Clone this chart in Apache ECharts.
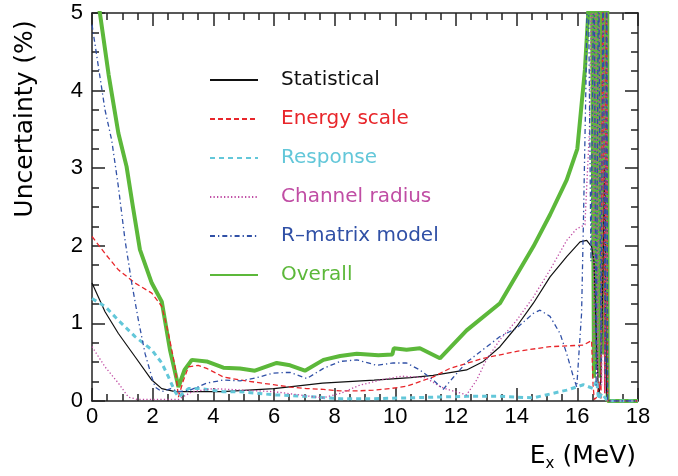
<!DOCTYPE html>
<html>
<head>
<meta charset="utf-8">
<script src="https://cdn.jsdelivr.net/npm/echarts/dist/echarts.min.js"></script>
<style>
html,body{margin:0;padding:0;background:#fff;}
#chart{width:678px;height:476px;}
</style>
</head>
<body>
<div id="chart"></div>
<script>
// ---- data (E_x in MeV, uncertainty in %) ----
const seriesNames = ['Statistical', 'Energy scale', 'Response', 'Channel radius', 'R\u2013matrix model', 'Overall'];
const xTicks = [0, 2, 4, 6, 8, 10, 12, 14, 16, 18];
const yTicks = [0, 1, 2, 3, 4, 5];

const statistical = [[0,1.52],[0.43,1.15],[0.87,0.87],[1.42,0.57],[1.97,0.27],[2.3,0.16],[2.74,0.12],[3.2,0.12],[4.3,0.12],[6.0,0.16],[7.6,0.23],[9.3,0.27],[10.5,0.30],[11.25,0.33],[12.35,0.40],[12.9,0.51],[13.45,0.70],[14.0,0.96],[14.55,1.26],[15.1,1.60],[15.65,1.86],[16.09,2.05],[16.31,2.07],[16.47,1.99],[16.55,1.8],[16.62,0.9],[16.7,0.05],[16.78,0.3],[16.85,1.8],[16.9,3.0],[16.95,0.2],[17.0,0],[18,0]];

const energyScale = [[0,2.12],[0.43,1.90],[0.87,1.69],[1.42,1.52],[1.97,1.39],[2.3,1.22],[2.52,0.87],[2.74,0.44],[2.85,0.05],[3.0,0.25],[3.18,0.44],[3.5,0.46],[3.78,0.42],[4.33,0.31],[4.88,0.27],[5.43,0.24],[5.98,0.21],[6.53,0.18],[7.08,0.16],[7.63,0.15],[8.18,0.13],[8.73,0.13],[9.28,0.14],[9.83,0.16],[10.37,0.19],[11.25,0.31],[11.8,0.42],[12.9,0.55],[14.0,0.64],[15.1,0.70],[16.2,0.72],[16.47,0.78],[16.52,0.2],[16.56,0.02],[16.65,0.05],[16.72,0.25],[16.78,0.02],[16.84,6],[16.9,0.1],[16.96,6],[17.0,0],[18,0]];

const response = [[0,1.32],[0.43,1.22],[0.87,1.04],[1.42,0.83],[1.97,0.66],[2.3,0.49],[2.52,0.31],[2.74,0.12],[2.85,0.05],[3.18,0.16],[3.6,0.16],[4.33,0.12],[4.88,0.12],[5.98,0.08],[7.08,0.06],[8.18,0.03],[9.28,0.03],[10.37,0.04],[12.35,0.06],[13.45,0.06],[14.55,0.04],[15.65,0.14],[16.2,0.21],[16.53,0.16],[16.64,0.27],[16.7,0.02],[16.8,0.1],[16.9,0.05],[17.0,0],[18,0]];

const channelRadius = [[0,0.70],[0.43,0.44],[0.87,0.23],[1.2,0.05],[1.5,0.02],[2.0,0.02],[2.5,0.02],[2.85,0.02],[3.3,0.12],[4.0,0.16],[5.0,0.14],[6.0,0.12],[7.0,0.07],[7.6,0.04],[8.2,0.1],[8.8,0.2],[9.5,0.27],[10.2,0.32],[11.0,0.3],[11.5,0.18],[11.8,0.14],[12.35,0.08],[12.68,0.27],[13.0,0.53],[13.45,0.79],[14.0,1.04],[14.55,1.34],[15.1,1.69],[15.65,2.07],[15.98,2.22],[16.25,2.27],[16.4,3.5],[16.48,6],[16.55,0.5],[16.6,6],[16.68,0.3],[16.72,6],[16.8,0.2],[16.85,6],[16.92,0.1],[16.97,6],[17.0,0],[18,0]];

const rMatrix = [[0,4.85],[0.21,4.31],[0.43,3.75],[0.65,3.36],[0.87,2.76],[1.09,2.07],[1.31,1.52],[1.53,1.04],[1.75,0.61],[1.97,0.31],[2.08,0.18],[2.3,0.12],[2.6,0.16],[2.85,0.12],[3.23,0.14],[3.78,0.23],[4.33,0.27],[4.88,0.26],[5.43,0.30],[5.98,0.36],[6.53,0.37],[7.08,0.29],[7.63,0.42],[8.18,0.51],[8.73,0.53],[9.39,0.46],[9.93,0.49],[10.37,0.49],[10.81,0.40],[11.25,0.27],[11.58,0.15],[11.9,0.3],[12.35,0.5],[13.45,0.83],[14.0,0.94],[14.55,1.13],[14.77,1.17],[15.1,1.09],[15.43,0.87],[15.65,0.61],[15.87,0.31],[15.98,0.18],[16.14,1.13],[16.2,2.29],[16.28,4.0],[16.35,6],[16.45,1.8],[16.55,6],[16.62,0.2],[16.7,6],[16.78,0.5],[16.85,6],[16.92,0.3],[16.97,6],[17.0,0],[18,0]];

const overall = [[0,5.6],[0.26,5.0],[0.55,4.2],[0.87,3.45],[1.14,3.02],[1.35,2.5],[1.58,1.95],[1.97,1.52],[2.3,1.28],[2.57,0.66],[2.85,0.18],[3.05,0.4],[3.29,0.53],[3.78,0.51],[4.33,0.43],[4.88,0.42],[5.37,0.39],[6.09,0.49],[6.53,0.46],[7.02,0.39],[7.63,0.53],[8.18,0.58],[8.73,0.61],[9.44,0.59],[9.9,0.6],[9.95,0.68],[10.37,0.66],[10.81,0.68],[11.47,0.55],[12.35,0.91],[13.45,1.26],[14.55,1.99],[15.1,2.4],[15.65,2.85],[16.0,3.25],[16.25,4.27],[16.36,5.0],[16.45,8],[16.5,8],[16.55,0.3],[16.6,8],[16.65,0.4],[16.7,8],[16.75,0.3],[16.8,8],[16.85,0.6],[16.9,8],[16.95,0.4],[16.98,8],[17.0,0],[18,0]];

// ---- styling ----
const colors = {
  'Statistical': '#111111',
  'Energy scale': '#e8262b',
  'Response': '#63c7d9',
  'Channel radius': '#c04da4',
  'R\u2013matrix model': '#3050a6',
  'Overall': '#5cb83a'
};
const styles = {
  'Statistical': {width: 1.2, type: 'solid'},
  'Energy scale': {width: 1.3, type: [5, 3]},
  'Response': {width: 3, type: [5, 4]},
  'Channel radius': {width: 1.3, type: [1.3, 2.2]},
  'R\u2013matrix model': {width: 1.3, type: [5, 3, 1.3, 3]},
  'Overall': {width: 4, type: 'solid'}
};
const dataByName = {
  'Statistical': statistical,
  'Energy scale': energyScale,
  'Response': response,
  'Channel radius': channelRadius,
  'R\u2013matrix model': rMatrix,
  'Overall': overall
};

const tickFont = 'Liberation Sans, Arial, sans-serif';
const titleFont = 'DejaVu Sans, sans-serif';

function xAxisCfg(pos, showLabel) {
  return {
    type: 'value', position: pos, min: xTicks[0], max: xTicks[xTicks.length - 1], interval: 2,
    axisLine: {show: true, onZero: false, lineStyle: {color: '#222', width: 1.5}},
    axisTick: {show: true, inside: true, length: 13, lineStyle: {color: '#222', width: 1.5}},
    minorTick: {show: true, splitNumber: 4, length: 7, lineStyle: {color: '#222', width: 1.5}},
    splitLine: {show: false},
    axisLabel: {show: showLabel, fontSize: 22, color: '#000', fontFamily: tickFont, margin: 5}
  };
}
function yAxisCfg(pos, showLabel) {
  return {
    type: 'value', position: pos, min: yTicks[0], max: yTicks[yTicks.length - 1], interval: 1,
    axisLine: {show: true, onZero: false, lineStyle: {color: '#222', width: 1.5}},
    axisTick: {show: true, inside: true, length: 13, lineStyle: {color: '#222', width: 1.5}},
    minorTick: {show: true, splitNumber: 4, length: 7, lineStyle: {color: '#222', width: 1.5}},
    splitLine: {show: false},
    axisLabel: {show: showLabel, fontSize: 22, color: '#000', fontFamily: tickFont, margin: 9}
  };
}

// draw order: overall underneath
const drawOrder = ['Overall', 'Statistical', 'Energy scale', 'Response', 'Channel radius', 'R\u2013matrix model'];

const series = drawOrder.map(name => ({
  name: name,
  type: 'line',
  xAxisIndex: 0,
  yAxisIndex: 0,
  data: dataByName[name],
  symbol: 'none',
  showSymbol: false,
  clip: true,
  silent: true,
  emphasis: {disabled: true},
  color: colors[name],
  lineStyle: {color: colors[name], width: styles[name].width, type: styles[name].type, cap: 'butt'}
}));

const chart = echarts.init(document.getElementById('chart'), null, {renderer: 'canvas'});
chart.setOption({
  animation: false,
  backgroundColor: '#fff',
  grid: {left: 92, right: 40, top: 13, bottom: 75, containLabel: false},
  xAxis: [xAxisCfg('bottom', true), xAxisCfg('top', false)],
  yAxis: [yAxisCfg('left', true), yAxisCfg('right', false)],
  legend: {
    orient: 'vertical',
    left: 204,
    top: 65,
    itemWidth: 48,
    itemHeight: 20,
    itemGap: 19,
    selectedMode: false,
    itemStyle: {opacity: 0},
    textStyle: {fontFamily: titleFont, fontSize: 20, padding: [0, 0, 0, 18]},
    data: seriesNames.map(n => ({name: n, textStyle: {color: colors[n]}}))
  },
  graphic: [
    {
      type: 'text', x: 25, y: 119, rotation: Math.PI / 2,
      style: {text: 'Uncertainty (%)', fontSize: 25, fontFamily: titleFont, fill: '#000', align: 'center', verticalAlign: 'middle'}
    },
    {
      type: 'text', right: 42, top: 444,
      style: {
        text: '{e|E}{s|x}{e| (MeV)}',
        fill: '#000',
        rich: {
          e: {fontSize: 25, fontFamily: titleFont, lineHeight: 30, fill: '#000'},
          s: {fontSize: 15, fontFamily: titleFont, lineHeight: 15, verticalAlign: 'bottom', fill: '#000'}
        }
      }
    }
  ],
  series: series
});
</script>
</body>
</html>
